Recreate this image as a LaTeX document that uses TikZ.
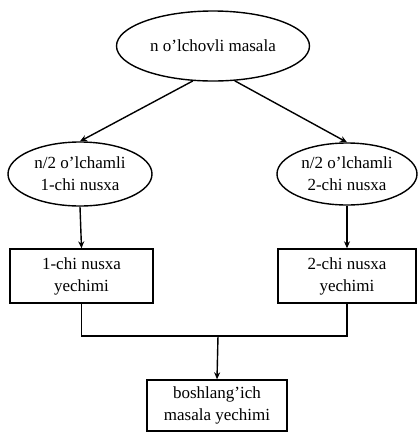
\documentclass[tikz,border=0pt]{standalone}
\usepackage{fontspec}
\setmainfont{Liberation Serif}
\usetikzlibrary{shapes.geometric,arrows.meta}
\begin{document}
\begin{tikzpicture}[x=1pt,y=-1pt,
  every node/.style={font=\fontsize{17}{22}\selectfont, align=center, inner sep=0pt},
  oval/.style={draw, ellipse, line width=1.4pt},
  block/.style={draw, rectangle, line width=1.4pt},
  link/.style={line width=1.4pt},
  arr/.style={link, -{Stealth[length=7pt,width=6pt]}}]
\useasboundingbox (0,0) rectangle (418,432);

\node[oval, minimum width=193pt, minimum height=70pt] (top) at (213,46) {n o'lchovli masala};
\node[oval, minimum width=144pt, minimum height=64pt] (left) at (80,174) {n/2 o'lchamli\\1-chi nusxa};
\node[oval, minimum width=140pt, minimum height=62pt] (right) at (347,174) {n/2 o'lchamli\\2-chi nusxa};

\node[block, minimum width=143pt, minimum height=54pt] (sol1) at (81.5,276) {1-chi nusxa\\yechimi};
\node[block, minimum width=138pt, minimum height=54pt] (sol2) at (347,276) {2-chi nusxa\\yechimi};
\node[block, minimum width=140pt, minimum height=51pt] (fin) at (217,405.5) {boshlang'ich\\masala yechimi};

\coordinate (join) at (218,336);

\draw[arr] (top.240) -- (left.north);
\draw[arr] (top.302) -- (right.north);
\draw[arr] (left.south) -- (sol1.north);
\draw[arr] (right.south) -- (sol2.north);
\draw[link] (sol1.south) -- (sol1.south |- join) -- (sol2.south |- join) -- (sol2.south);
\draw[arr] (join) -- (fin.north);
\end{tikzpicture}
\end{document}
